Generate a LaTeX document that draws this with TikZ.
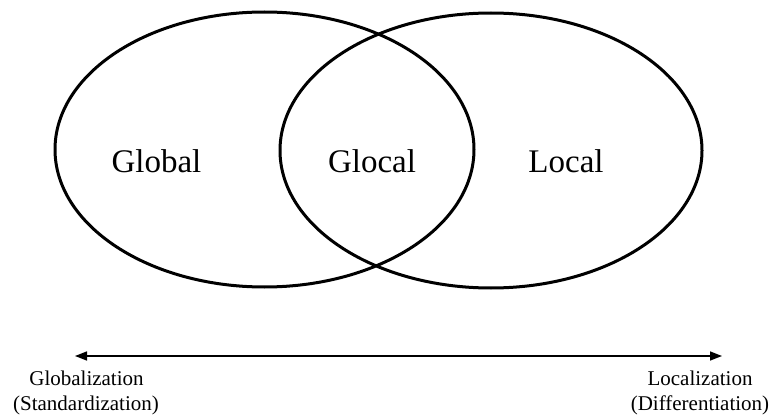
\documentclass[tikz,border=0pt]{standalone}
\usepackage{fontspec}
\setmainfont{Liberation Serif}
\usetikzlibrary{arrows.meta}
\begin{document}
\begin{tikzpicture}[x=1pt,y=-1pt,
  setring/.style={draw=black,line width=3pt},
  biglabel/.style={anchor=base,inner sep=0pt,font=\fontsize{33}{40}\selectfont},
  smalllabel/.style={anchor=base,inner sep=0pt,font=\fontsize{21}{25}\selectfont},
  scale arrow/.style={line width=1.5pt,{Triangle[length=12pt,width=9pt]}-{Triangle[length=12pt,width=9pt]}}]
  \useasboundingbox (0,0) rectangle (772,417);
  % the two overlapping sets
  \draw[setring] (264.5,149.5) ellipse [x radius=209.5pt, y radius=137.5pt];
  \draw[setring] (491,150.5) ellipse [x radius=211pt, y radius=137.5pt];
  % region labels
  \node[biglabel] (global) at (156.5,173) {Global};
  \node[biglabel] (glocal) at (372,173) {Glocal};
  \node[biglabel] (local) at (566,173) {Local};
  % strategy axis
  \coordinate (axisleft) at (75,356);
  \coordinate (axisright) at (722,356);
  \draw[scale arrow] (axisleft) -- (axisright);
  \node[smalllabel] (glob) at (86.5,385) {Globalization};
  \node[smalllabel] (std) at (86,410) {(Standardization)};
  \node[smalllabel] (loc) at (700,385) {Localization};
  \node[smalllabel] (diff) at (700,410) {(Differentiation)};
\end{tikzpicture}
\end{document}
